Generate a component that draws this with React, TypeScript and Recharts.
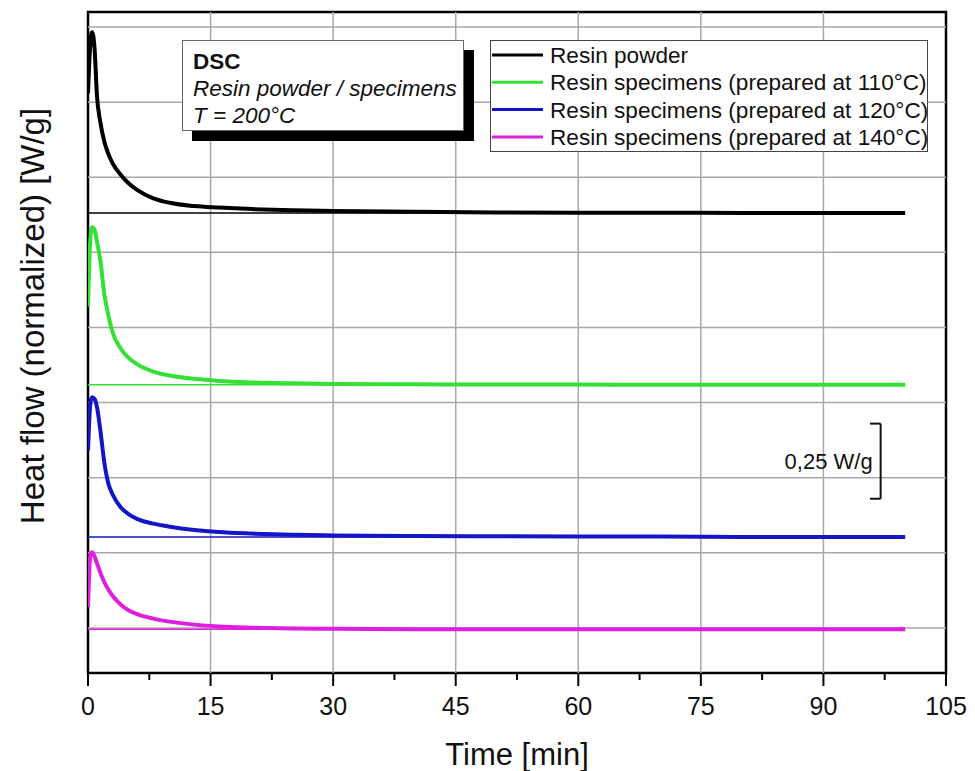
import React from 'react';
import {
  LineChart,
  Line,
  XAxis,
  YAxis,
  ReferenceLine,
  ReferenceArea,
  Legend,
} from 'recharts';

// ---- data ----
const timeMin = [0, 0.3, 0.5, 0.8, 1.1, 1.5, 2, 2.5, 3, 4, 5, 6, 8, 10, 13, 16, 20, 25, 30, 40, 50, 60, 70, 80, 90, 100];

const resinPowder = [1.78, 1.95, 1.983, 1.93, 1.77, 1.685, 1.618, 1.577, 1.547, 1.508, 1.479, 1.458, 1.43, 1.415, 1.404, 1.399, 1.394, 1.39, 1.388, 1.385, 1.383, 1.382, 1.382, 1.381, 1.381, 1.381];
const spec110 = [1.07, 1.3, 1.334, 1.325, 1.285, 1.225, 1.11, 1.04, 0.985, 0.93, 0.898, 0.878, 0.853, 0.84, 0.829, 0.822, 0.817, 0.814, 0.812, 0.811, 0.81, 0.81, 0.809, 0.809, 0.809, 0.809];
const spec120 = [0.59, 0.75, 0.768, 0.762, 0.735, 0.66, 0.55, 0.48, 0.445, 0.402, 0.378, 0.363, 0.347, 0.337, 0.326, 0.319, 0.314, 0.31, 0.308, 0.306, 0.305, 0.304, 0.304, 0.303, 0.303, 0.303];
const spec140 = [0.07, 0.245, 0.252, 0.238, 0.215, 0.185, 0.152, 0.127, 0.107, 0.078, 0.058, 0.046, 0.031, 0.021, 0.011, 0.005, 0.001, -0.002, -0.003, -0.004, -0.004, -0.004, -0.004, -0.004, -0.004, -0.004];

const baselineValues = [1.381, 0.809, 0.303, -0.004];
const baselineEnd = [0, 100];

const seriesNames = [
  'Resin powder',
  'Resin specimens (prepared at 110°C)',
  'Resin specimens (prepared at 120°C)',
  'Resin specimens (prepared at 140°C)',
];
const seriesColors = ['#000000', '#33e033', '#1515c8', '#e01ee0'];
const seriesValues = [resinPowder, spec110, spec120, spec140];

const xTicks = [0, 7.5, 15, 22.5, 30, 37.5, 45, 52.5, 60, 67.5, 75, 82.5, 90, 97.5, 105];
const xMajorTicks = [0, 15, 30, 45, 60, 75, 90, 105];
const xGridLines = [15, 30, 45, 60, 75, 90];
const yGridLines = [0, 0.25, 0.5, 0.75, 1.0, 1.25, 1.5, 1.75, 2.0];
const yDomain = [-0.15, 2.05];
const xDomain = [0, 105];

const scaleBarX = 97;
const scaleBarSerifX = 95.7;
const scaleBarY = [0.43, 0.68];
const scaleBarLabel = '0,25 W/g';

const annotationLines = ['DSC', 'Resin powder / specimens', 'T = 200°C'];
const xTitle = 'Time [min]';
const yTitle = 'Heat flow (normalized) [W/g]';

// ---- build data tables ----
const curveData = seriesValues.map((vals) => timeMin.map((t, i) => ({ t, v: vals[i] })));
const baselineData = baselineValues.map((b) => baselineEnd.map((t) => ({ t, v: b })));

const FONT = 'Liberation Sans, Arial, sans-serif';
const GRID = '#a8a8a8';

const XTick = (props: any) => {
  const { x, y, payload } = props;
  const v = payload.value;
  const major = xMajorTicks.includes(v);
  return (
    <g>
      <line x1={x} x2={x} y1={y} y2={y + (major ? 13 : 7)} stroke="#000" strokeWidth={2} />
      {major && (
        <text x={x} y={y + 42} textAnchor="middle" fontSize={25} fill="#111" fontFamily={FONT}>
          {v}
        </text>
      )}
    </g>
  );
};

const LegendContent = () => (
  <svg width={438} height={112} style={{ display: 'block' }}>
    <rect x={0.5} y={0.5} width={437} height={111} fill="#fff" stroke="#444" strokeWidth={1} />
    {seriesNames.map((name, i) => {
      const cy = 15 + i * 27.3;
      return (
        <g key={name}>
          <line x1={2} x2={53} y1={cy} y2={cy} stroke={seriesColors[i]} strokeWidth={3} />
          <text x={60} y={cy + 8} fontSize={22.6} fill="#111" fontFamily={FONT}>
            {name}
          </text>
        </g>
      );
    })}
  </svg>
);

const XLabel = (props: any) => {
  const { viewBox } = props;
  return (
    <text x={viewBox.x + viewBox.width / 2} y={viewBox.y + 92} textAnchor="middle" fontSize={31} fill="#111" fontFamily={FONT}>
      {xTitle}
    </text>
  );
};

const ScaleLabel = (props: any) => {
  const { viewBox } = props;
  return (
    <text x={viewBox.x - 8} y={viewBox.y + viewBox.height / 2 + 8} textAnchor="end" fontSize={22} fill="#111" fontFamily={FONT}>
      {scaleBarLabel}
    </text>
  );
};

export default function App() {
  const ycx = 44;
  const ycy = 316;
  return (
    <div style={{ position: 'absolute', left: 0, top: 0, width: 975, height: 771, background: '#fff' }}>
      <LineChart width={975} height={771} margin={{ top: 12, right: 29, bottom: 68, left: 88 }}>
        <XAxis
          type="number"
          dataKey="t"
          domain={xDomain}
          ticks={xTicks}
          interval={0}
          tick={<XTick />}
          tickLine={false}
          axisLine={false}
          tickSize={0}
          tickMargin={0}
          height={30}
          allowDataOverflow
          label={<XLabel />}
        />
        <YAxis
          type="number"
          dataKey="v"
          domain={yDomain}
          ticks={yGridLines}
          width={0}
          tick={false}
          tickLine={false}
          axisLine={false}
          allowDataOverflow
        />
        {xGridLines.map((x) => (
          <ReferenceLine key={'gx' + x} x={x} stroke={GRID} strokeWidth={1.5} />
        ))}
        {yGridLines.map((y) => (
          <ReferenceLine key={'gy' + y} y={y} stroke={GRID} strokeWidth={1.5} />
        ))}
        {baselineData.map((d, i) => (
          <Line
            key={'b' + i}
            data={d}
            dataKey="v"
            type="linear"
            dot={false}
            stroke={seriesColors[i]}
            strokeWidth={1.5}
            legendType="none"
            isAnimationActive={false}
          />
        ))}
        {curveData.map((d, i) => (
          <Line
            key={seriesNames[i]}
            name={seriesNames[i]}
            data={d}
            dataKey="v"
            type="monotone"
            dot={false}
            stroke={seriesColors[i]}
            strokeWidth={4}
            isAnimationActive={false}
          />
        ))}
        <ReferenceLine
          segment={[{ x: scaleBarX, y: scaleBarY[0] }, { x: scaleBarX, y: scaleBarY[1] }]}
          stroke="#111"
          strokeWidth={2}
          label={<ScaleLabel />}
        />
        <ReferenceLine segment={[{ x: scaleBarSerifX, y: scaleBarY[0] }, { x: scaleBarX, y: scaleBarY[0] }]} stroke="#111" strokeWidth={2} />
        <ReferenceLine segment={[{ x: scaleBarSerifX, y: scaleBarY[1] }, { x: scaleBarX, y: scaleBarY[1] }]} stroke="#111" strokeWidth={2} />
        <ReferenceArea x1={xDomain[0]} x2={xDomain[1]} y1={yDomain[0]} y2={yDomain[1]} fill="none" fillOpacity={0} stroke="#000" strokeWidth={2.5} />
        <Legend
          layout="vertical"
          align="center"
          verticalAlign="middle"
          content={<LegendContent />}
          wrapperStyle={{ left: 490, top: 40, width: 438, height: 112 }}
        />
      </LineChart>
      <svg width={80} height={771} style={{ position: 'absolute', left: 0, top: 0, pointerEvents: 'none' }}>
        <text x={ycx} y={ycy} textAnchor="middle" fontSize={33} fill="#111" fontFamily={FONT} transform={`rotate(-90 ${ycx} ${ycy})`}>
          {yTitle}
        </text>
      </svg>
      <div
        style={{
          position: 'absolute',
          left: 182,
          top: 40,
          width: 282,
          height: 91,
          background: '#fff',
          border: '1px solid #666',
          boxShadow: '10px 10px 0 #000',
          fontFamily: FONT,
          fontSize: 22.5,
          color: '#111',
          lineHeight: '27px',
          padding: '7px 0 0 10px',
          boxSizing: 'border-box',
        }}
      >
        <div style={{ fontWeight: 'bold' }}>{annotationLines[0]}</div>
        <div style={{ fontStyle: 'italic' }}>{annotationLines[1]}</div>
        <div style={{ fontStyle: 'italic' }}>{annotationLines[2]}</div>
      </div>
    </div>
  );
}
